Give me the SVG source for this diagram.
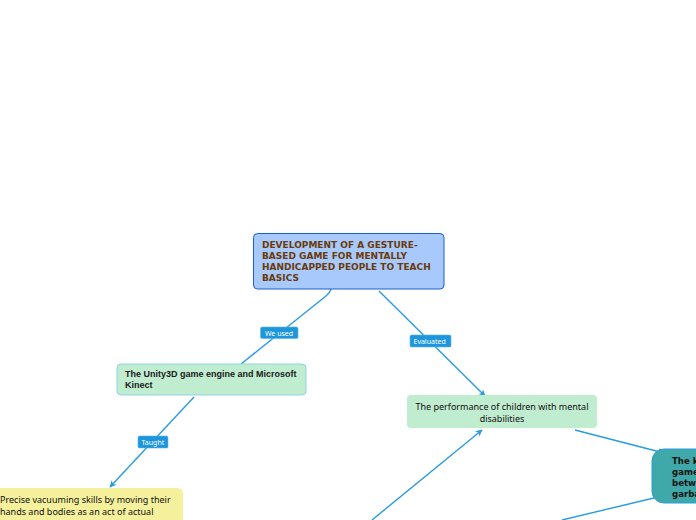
<svg xmlns="http://www.w3.org/2000/svg" width="696" height="520" viewBox="0 0 696 520">
<defs>
<marker id="arr" viewBox="0 0 10 10" refX="9" refY="5" markerWidth="7" markerHeight="7" markerUnits="userSpaceOnUse" orient="auto">
<path d="M0,0 L10,5 L0,10 L3,5 Z" fill="#2a9be0"/>
</marker>
<style>
.c{fill:none;stroke:#2a9be0;stroke-width:1.4}
.lb{fill:#1e96dc;stroke:#5bb6ea;stroke-width:0.6}
.lt{font-family:"Noto Sans","DejaVu Sans",sans-serif;font-size:7px;fill:#ffffff}
.root{font-family:"DejaVu Sans",sans-serif;font-weight:bold;font-size:9px;fill:#6b3a0a}
.bt{font-family:"Liberation Sans",Arial,sans-serif;font-weight:bold;font-size:9px;fill:#1a1a1a}
.nt{font-family:"Noto Sans","Open Sans",sans-serif;font-size:9px;fill:#111111}
.dt{font-family:"DejaVu Sans",sans-serif;font-weight:bold;font-size:8.6px;fill:#111111}
</style>
</defs>
<rect width="696" height="520" fill="#ffffff"/>
<g id="connectors">
<path class="c" d="M331,289 Q330,293 326,296 L241,364"/>
<path class="c" d="M194,397 L110,487" marker-end="url(#arr)"/>
<path class="c" d="M379,291 L485,396" marker-end="url(#arr)"/>
<path class="c" d="M575,430 L664,453" marker-end="url(#arr)"/>
<path class="c" d="M372,520 L482,430" marker-end="url(#arr)"/>
<path class="c" d="M658,497 L562,520"/>
<g id="label-we-used">
<rect class="lb" x="260.5" y="327" width="37.5" height="11.5" rx="1.5"/>
<text class="lt" x="265" y="335.5">We used</text>
</g>
<g id="label-evaluated">
<rect class="lb" x="410" y="335" width="41" height="12" rx="1.5"/>
<text class="lt" x="413.5" y="343.8">Evaluated</text>
</g>
<g id="label-taught">
<rect class="lb" x="138" y="436" width="30" height="12" rx="1.5"/>
<text class="lt" x="141.5" y="444.8">Taught</text>
</g>
</g>
<g id="node-root">
<rect x="253.5" y="233.5" width="190.5" height="55.5" rx="4" fill="#a8c9fb" stroke="#1a5fd0" stroke-width="1"/>
<text class="root" x="262" y="248">DEVELOPMENT OF A GESTURE-</text>
<text class="root" x="262" y="259">BASED GAME FOR MENTALLY</text>
<text class="root" x="262" y="270">HANDICAPPED PEOPLE TO TEACH</text>
<text class="root" x="262" y="281">BASICS</text>
</g>
<g id="node-unity">
<rect x="117" y="364" width="189" height="31" rx="4" fill="#c0ecd0" stroke="#8fd3e3" stroke-width="1"/>
<text class="bt" x="125" y="377">The Unity3D game engine and Microsoft</text>
<text class="bt" x="125" y="388">Kinect</text>
</g>
<g id="node-vacuum">
<rect x="-10" y="488" width="193" height="45" rx="6" fill="#f5f09c"/>
<text class="nt" x="0" y="503">Precise vacuuming skills by moving their</text>
<text class="nt" x="0" y="515">hands and bodies as an act of actual</text>
</g>
<g id="node-performance">
<rect x="407" y="395" width="190" height="33" rx="4" fill="#c0ecd0"/>
<text class="nt" x="502" y="410" text-anchor="middle">The performance of children with mental</text>
<text class="nt" x="502" y="421.5" text-anchor="middle">disabilities</text>
</g>
<g id="node-game">
<rect x="652" y="449" width="70" height="54" rx="12" fill="#3fa9a9" stroke="#2a9be0" stroke-width="1"/>
<text class="dt" x="672" y="464">The k</text>
<text class="dt" x="672" y="475">game</text>
<text class="dt" x="672" y="486">betw</text>
<text class="dt" x="672" y="497">garba</text>
</g>
</svg>
